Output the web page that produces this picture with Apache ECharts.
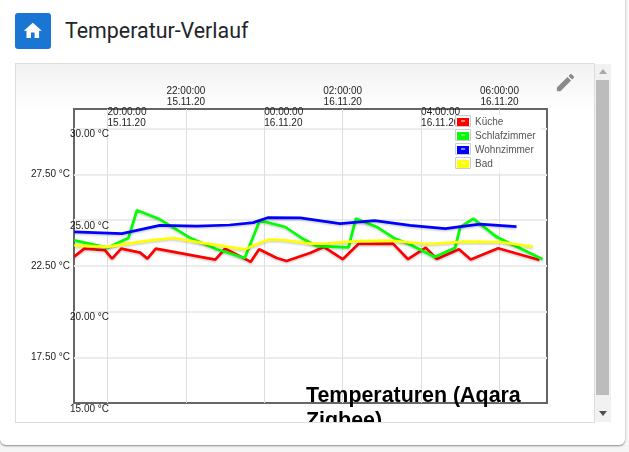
<!DOCTYPE html>
<html><head><meta charset="utf-8">
<script src="https://cdn.jsdelivr.net/npm/echarts@6/dist/echarts.min.js"></script>
<style>
html,body{margin:0;padding:0;width:629px;height:452px;overflow:hidden;background:#f5f5f5;font-family:Roboto,sans-serif}
#card{position:absolute;left:0;top:-20px;width:625px;height:465px;background:#fff;border-radius:6px;box-shadow:0 1px 2px rgba(0,0,0,.45)}
#home{position:absolute;left:15px;top:13px;width:36px;height:36px;border-radius:3px;background:#1976d2}
#home svg{position:absolute;left:7.2px;top:7px;width:21.6px;height:21.6px;fill:#fff}
#head{position:absolute;left:65px;top:16px;font-size:21.4px;line-height:30px;color:#212529}
#panel{position:absolute;left:15px;top:63px;width:578px;height:358px;border:1px solid #ddd;background:linear-gradient(#f2f2f2 0,#fff 46px)}
#chart{position:absolute;left:0;top:0;width:578px;height:358px;overflow:hidden}
#edit{position:absolute;left:554px;top:71px;width:23px;height:23px;fill:#8a8a8a}
#track{position:absolute;left:595px;top:64px;width:16px;height:358px;background:#f1f1f1}
#thumb{position:absolute;left:1px;top:16px;width:13px;height:315px;background:#bcbcbc}
.arr{position:absolute;left:4px;width:0;height:0;border-left:4px solid transparent;border-right:4px solid transparent}
</style></head>
<body>
<div id="card"></div>
<div id="home"><svg viewBox="0 0 24 24"><path d="M10 20v-6h4v6h5v-8h3L12 3 2 12h3v8z"/></svg></div>
<div id="head">Temperatur-Verlauf</div>
<div id="panel"><div id="chart"></div></div>
<svg id="edit" viewBox="0 0 24 24"><path d="M3 17.25V21h3.75L17.81 9.94l-3.75-3.75L3 17.25zM20.71 7.04a1 1 0 0 0 0-1.41l-2.34-2.34a1 1 0 0 0-1.41 0l-1.83 1.83 3.75 3.75 1.83-1.83z"/></svg>
<div id="track"><div class="arr" style="top:5px;border-bottom:5px solid #a8a8a8"></div><div id="thumb"></div><div class="arr" style="top:347px;border-top:5px solid #505050"></div></div>
<script>
// Time is minutes since 15.11.20 00:00
const chartTitle = 'Temperaturen (Aqara\nZigbee)';
const seriesNames = ['Küche', 'Schlafzimmer', 'Wohnzimmer', 'Bad'];
const seriesColors = ['#ff0000', '#00ff00', '#0000ff', '#ffff00'];

const kuecheTimes = [1149,1164.5,1196,1207,1221,1250,1261,1274,1365,1380,1408,1419,1432,1459,1474,1510,1531,1560,1584,1637,1660,1687,1704,1738,1756,1798,1861];
const kuecheTemps = [23.00,23.44,23.35,22.89,23.44,23.22,22.89,23.44,22.84,23.44,22.93,22.71,23.40,22.93,22.76,23.20,23.53,22.86,23.69,23.71,22.86,23.49,22.87,23.40,22.84,23.46,22.82];

const schlafTimes = [1149,1200,1232,1245,1280,1326,1367,1410,1433,1472,1497,1520,1569,1580,1614,1640,1663,1701,1732,1740,1760,1796,1866];
const schlafTemps = [23.89,23.49,24.02,25.53,25.04,24.04,23.40,22.93,24.98,24.62,24.02,23.58,23.51,25.08,24.59,23.99,23.66,22.98,23.49,24.62,25.08,24.07,22.86];

const wohnTimes = [1149,1222,1280,1337,1387,1423,1445,1495,1556,1609,1663,1717,1770,1826];
const wohnTemps = [24.35,24.26,24.71,24.67,24.73,24.86,25.13,25.12,24.80,24.97,24.71,24.53,24.78,24.64];

const badTimes = [1149,1200,1239,1265,1301,1342,1410,1446,1469,1510,1533,1583,1632,1689,1750,1801,1851];
const badTemps = [23.62,23.53,23.75,23.89,24.02,23.77,23.40,23.93,23.91,23.71,23.71,23.85,23.88,23.69,23.82,23.80,23.55];

const xMin = 1148.7, xMax = 1872.7, yMin = 15, yMax = 31.07;
const xTicksInner = [1200, 1440, 1680];
const xLabelsInner = ['20:00:00\n15.11.20', '00:00:00\n16.11.20', '04:00:00\n16.11.20'];
const xTicksOuter = [1320, 1560, 1800];
const xLabelsOuter = ['22:00:00\n15.11.20', '02:00:00\n16.11.20', '06:00:00\n16.11.20'];
const yTicksInner = [15, 20, 25, 30];
const yLabelsInner = ['15.00 °C', '20.00 °C', '25.00 °C', '30.00 °C'];
const yTicksOuter = [17.5, 22.5, 27.5];
const yLabelsOuter = ['17.50 °C', '22.50 °C', '27.50 °C'];

const allTimes = [kuecheTimes, schlafTimes, wohnTimes, badTimes];
const allTemps = [kuecheTemps, schlafTemps, wohnTemps, badTemps];
const font = '"Liberation Sans", Arial, sans-serif';
const lookup = (ticks, labels) => v => { const i = ticks.findIndex(t => Math.abs(t - v) < 1e-6); return i < 0 ? '' : labels[i]; };
const hSplit = {show: true, lineStyle: {color: '#ececec', width: 2}};
const vSplit = {show: true, lineStyle: {color: '#dedede', width: 1}};
const noLine = {show: false};

const legendFrames = [];
seriesNames.forEach((n, i) => {
  legendFrames.push({type: 'rect', z: 100, shape: {x: 439.5, y: 51.5 + i * 14, width: 15, height: 11}, style: {fill: 'none', stroke: '#ccc', lineWidth: 1}});
  legendFrames.push({type: 'rect', z: 100, shape: {x: 445, y: 56.5 + i * 14, width: 4, height: 1}, style: {fill: '#fff'}});
});

const chart = echarts.init(document.getElementById('chart'), null, {renderer: 'canvas'});
chart.setOption({
  animation: false,
  textStyle: {fontFamily: font},
  title: {text: chartTitle, left: 290, top: 320, padding: 0, z: 20,
    textStyle: {fontFamily: font, fontSize: 21.4, fontWeight: 'bold', color: '#000', lineHeight: 25}},
  grid: {left: 58, top: 45, width: 473, height: 294, show: true, backgroundColor: '#fff', borderColor: '#666', borderWidth: 2, containLabel: false},
  legend: {orient: 'vertical', left: 439, top: 51, data: seriesNames, icon: 'rect', itemWidth: 12, itemHeight: 9, itemGap: 3, padding: [2, 6, 3, 2], selectedMode: false,
    backgroundColor: 'rgba(255,255,255,0.85)', textStyle: {fontFamily: font, fontSize: 10, color: '#545454', padding: [0, 0, 0, 1], lineHeight: 11}},
  xAxis: [
    {type: 'value', position: 'top', min: xMin, max: xMax, axisLine: noLine, splitLine: vSplit,
      axisTick: {show: false, customValues: xTicksInner.concat(xTicksOuter).sort((a, b) => a - b)},
      axisLabel: {customValues: xTicksOuter, formatter: lookup(xTicksOuter, xLabelsOuter), margin: 1.5, fontSize: 10, lineHeight: 11, color: '#222', fontFamily: font}},
    {type: 'value', position: 'top', min: xMin, max: xMax, axisLine: noLine, splitLine: {show: false},
      axisTick: {show: false, customValues: xTicksInner},
      axisLabel: {customValues: xTicksInner, inside: true, align: 'left', verticalAlign: 'top', formatter: lookup(xTicksInner, xLabelsInner), margin: -2.5, fontSize: 10, lineHeight: 11, color: '#222', fontFamily: font}}
  ],
  yAxis: [
    {type: 'value', position: 'left', min: yMin, max: yMax, axisLine: noLine, splitLine: hSplit,
      axisTick: {show: false, customValues: yTicksInner.concat(yTicksOuter).filter(v => v > yMin).sort((a, b) => a - b)},
      axisLabel: {customValues: yTicksOuter, formatter: lookup(yTicksOuter, yLabelsOuter), margin: 4, fontSize: 10, color: '#222', fontFamily: font}},
    {type: 'value', position: 'left', min: yMin, max: yMax, axisLine: noLine, splitLine: {show: false},
      axisTick: {show: false, customValues: yTicksInner},
      axisLabel: {customValues: yTicksInner, align: 'left', verticalAlign: 'top', formatter: lookup(yTicksInner, yLabelsInner), margin: 4, padding: [1, 0, 0, 0], fontSize: 10, color: '#222', fontFamily: font}}
  ],
  series: seriesNames.map((name, i) => ({
    name, type: 'line', xAxisIndex: 0, yAxisIndex: 0, symbol: 'none', smooth: false, z: 5 + i,
    itemStyle: {color: seriesColors[i]},
    lineStyle: {color: seriesColors[i], width: 2.7, shadowColor: 'rgba(0,0,0,0.18)', shadowBlur: 2, shadowOffsetY: 1.5},
    data: allTimes[i].map((t, j) => [t, allTemps[i][j]])
  })),
  graphic: legendFrames
});
</script>
</body></html>
